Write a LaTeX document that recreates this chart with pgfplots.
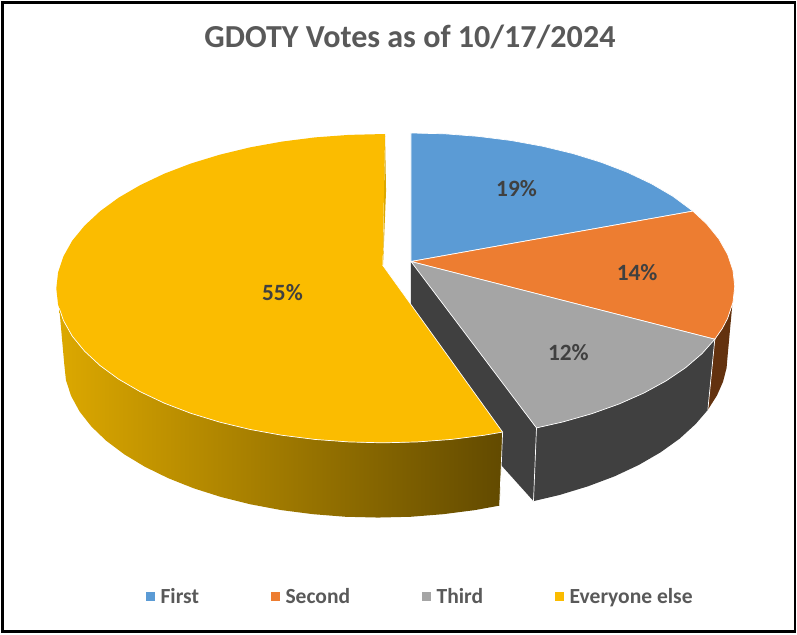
\documentclass[border=0pt]{standalone}
\usepackage{fontspec}
\setmainfont{Carlito}
\usepackage{pgfplots}
\pgfplotsset{compat=1.18}
\definecolor{cFirst}{HTML}{5B9BD5}
\definecolor{cSecond}{HTML}{ED7D31}
\definecolor{cThird}{HTML}{A5A5A5}
\definecolor{cElse}{HTML}{FBBC00}
\definecolor{cDark}{HTML}{404040}
\definecolor{cBrown}{HTML}{63320F}
\definecolor{cTxt}{HTML}{595959}
\definecolor{cLbl}{HTML}{404040}
\definecolor{cGoldL}{HTML}{DCA800}
\definecolor{cGoldR}{HTML}{624A00}
\begin{document}
\begin{tikzpicture}
\begin{axis}[
  hide axis, scale only axis, width=797bp, height=634bp,
  xmin=0, xmax=797, ymin=0, ymax=634, y dir=reverse, clip=false,
  legend columns=4,
  legend cell align=left,
  legend style={at={(axis cs:145,597.5)}, anchor=west, draw=none, fill=none, inner sep=0pt,
    font=\fontsize{21.7}{25}\selectfont\bfseries\color{cTxt},
    /tikz/every odd column/.append style={column sep=4bp},
    /tikz/every even column/.append style={column sep=70.4bp}},
  legend image code/.code={\path[#1,draw=none] (0bp,-4.5bp) rectangle (8.5bp,4.5bp);},
]
% side faces
\addplot[fill=cDark,draw=none,forget plot] coordinates {(411,261)(537,428)(534,501.5)(503,467)(470,430)(411,350)} --cycle;
\addplot[fill=cDark,draw=none,forget plot] coordinates {(716,339)(703.1,353.5)(686.6,367.6)(667.1,380.8)(644.8,393)(619.9,404)(592.7,413.7)(563.6,422)(537,428)(534,501.5)(560.3,495.3)(588.8,486.6)(615.4,476.6)(639.7,465.2)(661.6,452.5)(680.7,438.8)(696.8,424.1)(709,409.9)} --cycle;
\addplot[fill=cBrown,draw=none,forget plot] coordinates {(716,339)(723.4,328.4)(728.9,318)(733.5,305)(729,354)(727.8,367.9)(724.2,381.8)(718.2,395.4)(709,409.9)} --cycle;
\addplot[white,line width=0.7bp,forget plot] coordinates {(537,428)(534,501.5)};
\addplot[white,line width=0.7bp,forget plot] coordinates {(716,339)(709,409.9)};
% top faces of the three exploded slices
\addplot[fill=cFirst,draw=white,line width=0.7bp] coordinates {(411,261)(411,132)(445,132.8)(478.6,135.4)(511.4,139.5)(543.2,145.3)(573.5,152.6)(602,161.4)(628.5,171.6)(652.5,183)(673.9,195.5)(694,210.4)} --cycle;
\addlegendentry{First}
\addplot[fill=cSecond,draw=white,line width=0.7bp] coordinates {(411,261)(694,210.4)(707.9,223.4)(720.1,238.4)(728.9,254)(734.2,269.9)(736,286)(734.2,302.1)(728.9,318)(723.4,328.4)(716,339)} --cycle;
\addlegendentry{Second}
\addplot[fill=cThird,draw=white,line width=0.7bp] coordinates {(411,261)(716,339)(703.1,353.5)(686.6,367.6)(667.1,380.8)(644.8,393)(619.9,404)(592.7,413.7)(563.6,422)(537,428)} --cycle;
\addlegendentry{Third}
% large slice: side
\addplot[left color=cGoldL,right color=cGoldR,draw=none,forget plot] coordinates {(58,308)(62.2,320.2)(71,335.9)(83.4,351)(99,365.5)(117.6,379.1)(139.3,391.7)(163.5,403.2)(190.2,413.4)(219,422.2)(249.6,429.6)(281.6,435.4)(314.8,439.6)(348.7,442.1)(383,443)(417.3,442.1)(451.2,439.6)(484.4,435.4)(503,432.2)(500,506)(475.3,510.5)(443.5,514.6)(410.9,517.2)(378,518)(345.1,517.2)(312.5,514.6)(280.7,510.5)(249.9,504.7)(220.5,497.4)(192.8,488.6)(167.2,478.4)(143.9,467)(123.2,454.5)(105.2,441)(90.2,426.6)(78.4,411.6)(69.9,396)(64.7,380.1)(63,364)} --cycle;
\addplot[white,line width=0.7bp,forget plot] coordinates {(503,432.2)(500,506)};
% large slice: top
\addplot[fill=cElse,draw=none] coordinates {(382.5,264.5)(385,133)(348.7,133.9)(314.8,136.4)(281.6,140.6)(249.6,146.4)(219,153.8)(190.2,162.6)(163.5,172.8)(139.3,184.3)(117.6,196.9)(99,210.5)(83.4,225)(71,240.1)(62.2,255.8)(56.8,271.8)(55,288)(56.8,304.2)(62.2,320.2)(71,335.9)(83.4,351)(99,365.5)(117.6,379.1)(139.3,391.7)(163.5,403.2)(190.2,413.4)(219,422.2)(249.6,429.6)(281.6,435.4)(314.8,439.6)(348.7,442.1)(383,443)(417.3,442.1)(451.2,439.6)(484.4,435.4)(503,432.2)} --cycle;
\addlegendentry{Everyone else}
\addplot[white,line width=0.7bp,forget plot] coordinates {(382.5,264.5)(503,432.2)(484.4,435.4)(451.2,439.6)(417.3,442.1)(383,443)(348.7,442.1)(314.8,439.6)(281.6,435.4)(249.6,429.6)(219,422.2)(190.2,413.4)(163.5,403.2)(139.3,391.7)(117.6,379.1)(99,365.5)(83.4,351)(71,335.9)(62.2,320.2)(58,308)};
\addplot[fill=cGoldL,draw=none,forget plot] coordinates {(385,135)(386,190)(383,264)(384,190)} --cycle;
% frame
\addplot[black,line width=3bp,forget plot] coordinates {(0,1.5)(797,1.5)};
\addplot[black,line width=3bp,forget plot] coordinates {(0,632.5)(797,632.5)};
\addplot[black,line width=3bp,forget plot] coordinates {(1.5,0)(1.5,634)};
\addplot[black,line width=1.5bp,forget plot] coordinates {(796.25,0)(796.25,634)};
% texts
\node[font=\fontsize{32.3}{37}\selectfont\bfseries,text=cTxt] at (axis cs:410,36) {GDOTY Votes as of 10/17/2024};
\node[font=\fontsize{23.5}{27}\selectfont\bfseries,text=cLbl] at (axis cs:517,188) {19\%};
\node[font=\fontsize{23.5}{27}\selectfont\bfseries,text=cLbl] at (axis cs:638,272) {14\%};
\node[font=\fontsize{23.5}{27}\selectfont\bfseries,text=cLbl] at (axis cs:569,352) {12\%};
\node[font=\fontsize{23.5}{27}\selectfont\bfseries,text=cLbl] at (axis cs:282,292) {55\%};
\end{axis}
\end{tikzpicture}
\end{document}
